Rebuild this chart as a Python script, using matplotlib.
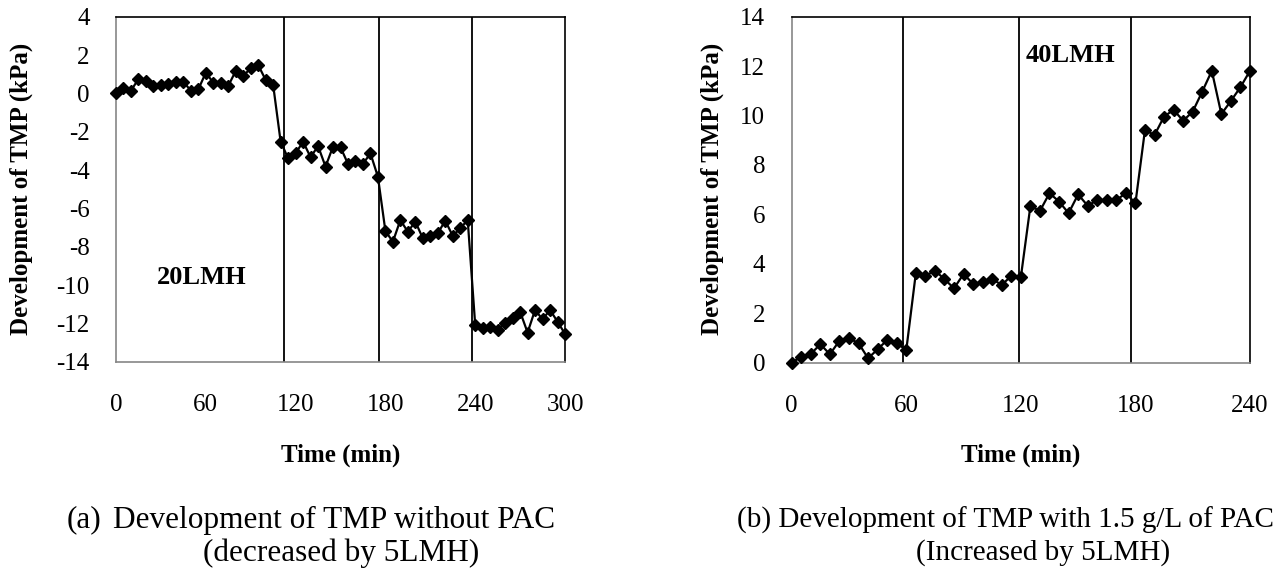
import matplotlib.pyplot as plt

plt.rcParams['font.family'] = ['Liberation Serif', 'DejaVu Serif']
plt.rcParams['axes.unicode_minus'] = False

# (a) without PAC, sampled every 5 min
time_a = list(range(0, 305, 5))
tmp_a = [0.0, 0.27, 0.14, 0.75, 0.65, 0.39, 0.44, 0.47, 0.61, 0.61,
         0.14, 0.21, 1.08, 0.56, 0.53, 0.39, 1.17, 0.91, 1.31, 1.48,
         0.70, 0.44, -2.52, -3.39, -3.13, -2.52, -3.33, -2.75, -3.82, -2.78,
         -2.81, -3.68, -3.51, -3.68, -3.13, -4.35, -7.18, -7.74, -6.61, -7.22,
         -6.69, -7.56, -7.42, -7.30, -6.64, -7.44, -7.04, -6.61, -12.08, -12.25,
         -12.17, -12.34, -11.96, -11.73, -11.39, -12.48, -11.30, -11.79, -11.30, -11.91,
         -12.55]
steps_a = [112, 176, 238]

# (b) with 1.5 g/L PAC
time_b = list(range(0, 245, 5))
tmp_b = [0.0, 0.24, 0.35, 0.75, 0.34, 0.89, 0.99, 0.79, 0.18, 0.54,
         0.92, 0.79, 0.51, 3.62, 3.51, 3.73, 3.38, 3.01, 3.59, 3.19,
         3.26, 3.38, 3.15, 3.51, 3.46, 6.34, 6.14, 6.86, 6.52, 6.05,
         6.81, 6.35, 6.58, 6.58, 6.58, 6.86, 6.45, 9.42, 9.21, 9.96,
         10.23, 9.79, 10.16, 10.97, 11.81, 10.06, 10.59, 11.15, 11.81]
steps_b = [58.5, 119, 177.5]

W, H = 1282, 575
fig = plt.figure(figsize=(W / 100, H / 100), dpi=100)

def make_axes(x0, x1, ytop, ybot):
    return fig.add_axes([x0 / W, 1 - ybot / H, (x1 - x0) / W, (ybot - ytop) / H])

ax1 = make_axes(116, 565, 16.7, 361.7)
ax2 = make_axes(791.7, 1250, 16.7, 362.7)

def style(ax, steps, xlim, xticks, ylim, yticks):
    for s in steps:
        ax.axvline(s, color='black', lw=1.3, zorder=1)
    ax.set_xlim(*xlim)
    ax.set_ylim(*ylim)
    ax.set_xticks(xticks)
    ax.set_yticks(yticks)
    ax.tick_params(length=0, labelsize=18)
    ax.tick_params(axis='x', pad=23)
    ax.tick_params(axis='y', pad=19)
    ax.spines['left'].set_color('#868686')
    ax.spines['bottom'].set_color('#868686')
    ax.spines['top'].set_color('black')
    ax.spines['right'].set_color('black')
    for sp in ax.spines.values():
        sp.set_linewidth(1.2)

ax1.plot(time_a, tmp_a, color='black', lw=1.6, marker='D', markersize=6.3, zorder=3, clip_on=False)
style(ax1, steps_a, (0, 300), range(0, 301, 60), (-14, 4), range(-14, 5, 2))
ax1.text(57, -9.6, '20LMH', fontsize=19, fontweight='bold', ha='center', va='center')

ax2.plot(time_b, tmp_b, color='black', lw=1.6, marker='D', markersize=6.3, zorder=3, clip_on=False)
style(ax2, steps_b, (0, 240), range(0, 241, 60), (0, 14), range(0, 15, 2))
ax2.text(146, 12.45, '40LMH', fontsize=19, fontweight='bold', ha='center', va='center')

# axis titles
for xc in (340.5, 1021):
    fig.text(xc / W, 1 - 455 / H, 'Time (min)', fontsize=18, fontweight='bold', ha='center', va='center')
for xc in (21, 712):
    fig.text(xc / W, 1 - 189 / H, 'Development of TMP (kPa)', fontsize=18, fontweight='bold',
             ha='center', va='center', rotation=90)

# captions
fig.text(67 / W, 1 - 520 / H, '(a)', fontsize=22.5, ha='left', va='center')
fig.text(113 / W, 1 - 520 / H, 'Development of TMP without PAC', fontsize=22.5, ha='left', va='center')
fig.text(341 / W, 1 - 553 / H, '(decreased by 5LMH)', fontsize=22.5, ha='center', va='center')
fig.text(737 / W, 1 - 520 / H, '(b) Development of TMP with 1.5 g/L of PAC', fontsize=21, ha='left', va='center')
fig.text(1043 / W, 1 - 553 / H, '(Increased by 5LMH)', fontsize=21, ha='center', va='center')

fig.savefig('out.png', dpi=100)
